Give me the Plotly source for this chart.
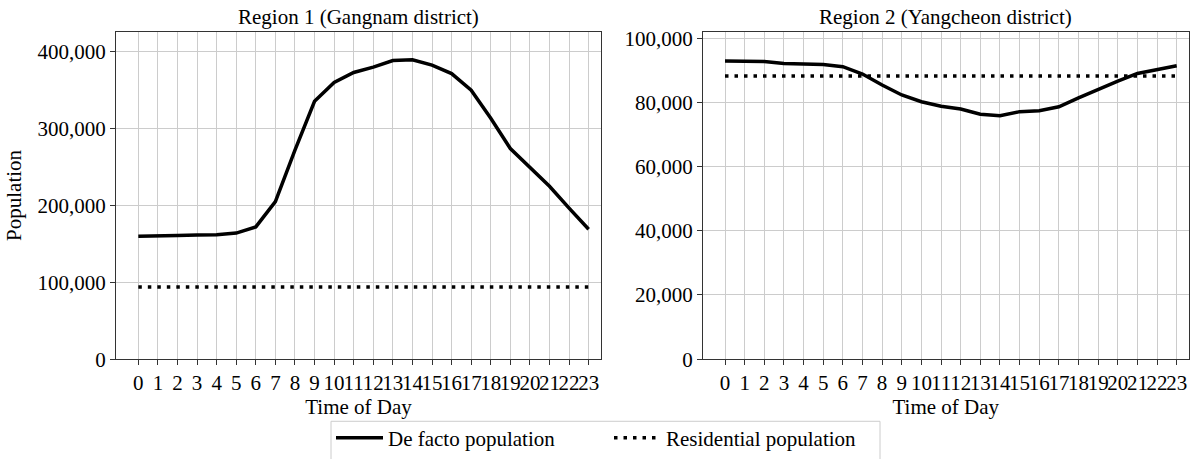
import plotly.graph_objects as go

# Hour of day
hours = list(range(24))
hour_labels = [str(h) for h in hours]

# Region 1 (Gangnam district)
gangnam_defacto = [160000, 160000, 161000, 161500, 162000, 164000, 172000, 205000,
                   272000, 335500, 360000, 373000, 380000, 388500, 389500, 382500,
                   371500, 350000, 313500, 274000, 250000, 225000, 196500, 169000]
gangnam_resident = [94000] * 24

# Region 2 (Yangcheon district)
yangcheon_defacto = [92900, 92700, 92700, 92100, 92000, 91800, 91100, 88800,
                     85400, 82300, 80200, 78800, 77900, 76300, 75800, 77100,
                     77400, 78600, 81400, 84100, 86600, 89000, 90300, 91400]
yangcheon_resident = [88200] * 24

left_ticks = [0, 100000, 200000, 300000, 400000]
right_ticks = [0, 20000, 40000, 60000, 80000, 100000]

FONT = "Liberation Serif, Times New Roman, serif"
FS = 21
GRID = "#cccccc"
AXIS = "#333333"

fig = go.Figure()

solid = dict(color="black", width=3.5)
dotted = dict(color="black", width=3.5, dash="3.5px,6px")

fig.add_trace(go.Scatter(x=hours, y=gangnam_defacto, mode="lines", line=solid,
                         name="De facto population", legend="legend",
                         xaxis="x", yaxis="y"))
fig.add_trace(go.Scatter(x=hours, y=gangnam_resident, mode="lines", line=dotted,
                         name="Residential population", legend="legend2",
                         xaxis="x", yaxis="y"))
fig.add_trace(go.Scatter(x=hours, y=yangcheon_defacto, mode="lines", line=solid,
                         name="De facto population", showlegend=False,
                         xaxis="x2", yaxis="y2"))
fig.add_trace(go.Scatter(x=hours, y=yangcheon_resident, mode="lines", line=dotted,
                         name="Residential population", showlegend=False,
                         xaxis="x2", yaxis="y2"))

W, H = 1200, 459
ydom = [1 - 362.3 / H, 1 - 32 / H]

common_x = dict(
    tickmode="array", tickvals=hours, ticktext=hour_labels, tickangle=0,
    showgrid=True, gridcolor=GRID, gridwidth=1,
    showline=True, linecolor=AXIS, linewidth=1, mirror=True,
    ticks="outside", ticklen=5, tickcolor=AXIS,
    tickfont=dict(family=FONT, size=FS, color="black"),
    title=dict(text="Time of Day", font=dict(family=FONT, size=FS, color="black"), standoff=0),
    zeroline=False, automargin=False,
)
common_y = dict(
    showgrid=True, gridcolor=GRID, gridwidth=1,
    showline=True, linecolor=AXIS, linewidth=1, mirror=True,
    ticks="outside", ticklen=5, tickcolor=AXIS,
    tickformat=",", tickfont=dict(family=FONT, size=FS, color="black"),
    zeroline=False, automargin=False,
)

legend_common = dict(orientation="h", xanchor="left", y=1 - 442 / H, yanchor="middle",
                     borderwidth=0, bgcolor="rgba(0,0,0,0)",
                     font=dict(family=FONT, size=FS, color="black"), itemwidth=47)

fig.update_layout(
    width=W, height=H,
    margin=dict(l=0, r=0, t=0, b=0),
    paper_bgcolor="white", plot_bgcolor="white",
    font=dict(family=FONT, color="black"),
    xaxis=dict(common_x, domain=[116 / W, 601 / W], range=[-1.14, 23.63], anchor="y"),
    yaxis=dict(common_y, domain=ydom, range=[0, 426000], tickvals=left_ticks, anchor="x",
               title=dict(text="Population", font=dict(family=FONT, size=FS, color="black"),
                          standoff=10)),
    xaxis2=dict(common_x, domain=[703 / W, 1188.5 / W], range=[-1.12, 23.6], anchor="y2"),
    yaxis2=dict(common_y, domain=ydom, range=[0, 102000], tickvals=right_ticks, anchor="x2"),
    legend=dict(legend_common, x=331 / W),
    legend2=dict(legend_common, x=609 / W),
    showlegend=True,
    shapes=[
        dict(type="rect", xref="paper", yref="paper",
             x0=331 / W, x1=880 / W, y0=-0.05, y1=1 - 425 / H,
             line=dict(color="#cccccc", width=1), fillcolor="rgba(0,0,0,0)", layer="below"),
    ],
    annotations=[
        dict(text="Region 1 (Gangnam district)", x=(116 + 601) / 2 / W, y=1 - 17 / H,
             xref="paper", yref="paper", showarrow=False, xanchor="center", yanchor="middle",
             font=dict(family=FONT, size=FS, color="black")),
        dict(text="Region 2 (Yangcheon district)", x=(703 + 1188.5) / 2 / W, y=1 - 17 / H,
             xref="paper", yref="paper", showarrow=False, xanchor="center", yanchor="middle",
             font=dict(family=FONT, size=FS, color="black")),
    ],
)

fig.write_html("out.html")
